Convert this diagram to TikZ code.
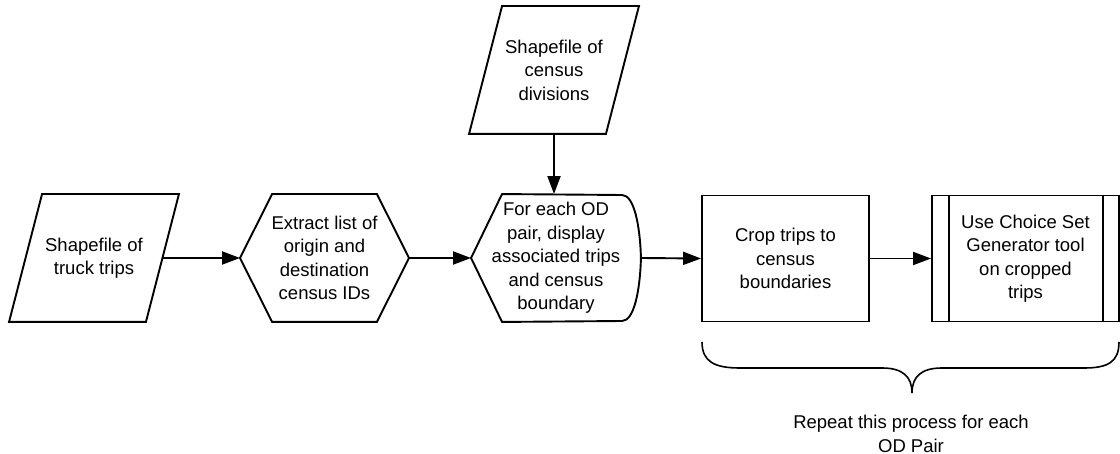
\documentclass[tikz,border=0pt]{standalone}
\usepackage{fontspec}
\setmainfont{Liberation Sans}
\usetikzlibrary{arrows.meta,calc}
\tikzset{
  box/.style={inner sep=0pt, align=center, minimum height=126pt,
    font=\fontsize{18.5}{23.5}\selectfont},
  flow/.style={-{Triangle[length=18pt,width=13pt]}}
}

\begin{document}
\begin{tikzpicture}[x=1pt, y=-1pt, line width=1.9pt]
	\useasboundingbox (0,0) rectangle (1120,454);
	\node[box, minimum width=135pt] (truck) at (94,258) {Shapefile of\\truck trips};
	\node[box, minimum width=167pt] (extract) at (324.5,258) {Extract list of\\origin and\\destination\\census IDs};
	\node[box, minimum width=135pt] (census) at (554,70) {Shapefile of\\census\\divisions};
	\node[box, minimum width=168pt] (display) at (556,258) {For each OD\\pair, display\\associated trips\\and census\\boundary};
	\node[box, draw, minimum width=167pt] (crop) at (785.5,258.5) {Crop trips to\\census\\boundaries};
	\node[box, draw, minimum width=187pt] (gen) at (1025.5,258.5) {Use Choice Set\\Generator tool\\on cropped\\trips};
	
	% data shapes
	\draw ($(truck.south west)+(-16.5,0)$) -- ($(truck.south east)+(-16.5,0)$) -- ($(truck.north east)+(16.5,0)$) -- ($(truck.north west)+(16.5,0)$) -- cycle;
	\draw ($(census.south west)+(-16.5,0)$) -- ($(census.south east)+(-16.5,0)$) -- ($(census.north east)+(16.5,0)$) -- ($(census.north west)+(16.5,0)$) -- cycle;
	\draw (extract.west) -- ($(extract.north west)+(32,0)$) -- ($(extract.north east)+(-32,0)$) -- (extract.east) -- ($(extract.south east)+(-32,0)$) -- ($(extract.south west)+(32,0)$) -- cycle;
	\draw (display.west) -- ($(display.north west)+(31,0)$) -- (622,195) .. controls (634,195) and (640,225) .. (display.east) .. controls (640,291) and (634,321) .. (622,321) -- ($(display.south west)+(31,0)$) -- cycle;
	\draw ($(gen.north west)+(18,0)$) -- ($(gen.south west)+(18,0)$);
	\draw ($(gen.north east)+(-17,0)$) -- ($(gen.south east)+(-17,0)$);
	
	\draw[flow] (truck.east) -- (extract.west);
	\draw[flow] (extract.east) -- (display.west);
	\draw[flow] (census.south) -- (census.south |- display.north);
	\draw[flow] (display.east) -- (crop.west);
	\draw[flow] (crop.east) -- (gen.west);
	
	% brace under the last two steps
	\coordinate (bl) at (702,342);
	\coordinate (tip) at (912,393);
	\coordinate (br) at (1119,342);
	\draw[line width=1.6pt] (bl) .. controls (702,362) and (715,368) .. (740,368) -- (882,368) .. controls (902,368) and (912,376) .. (tip) .. controls (912,376) and (922,368) .. (942,368) -- (1084,368) .. controls (1108,368) and (1119,362) .. (br);
	\node[font=\fontsize{18.5}{23.5}\selectfont, align=center, inner sep=0pt] (repeat) at (911,434) {Repeat this process for each\\OD Pair};
\end{tikzpicture}
\end{document}
